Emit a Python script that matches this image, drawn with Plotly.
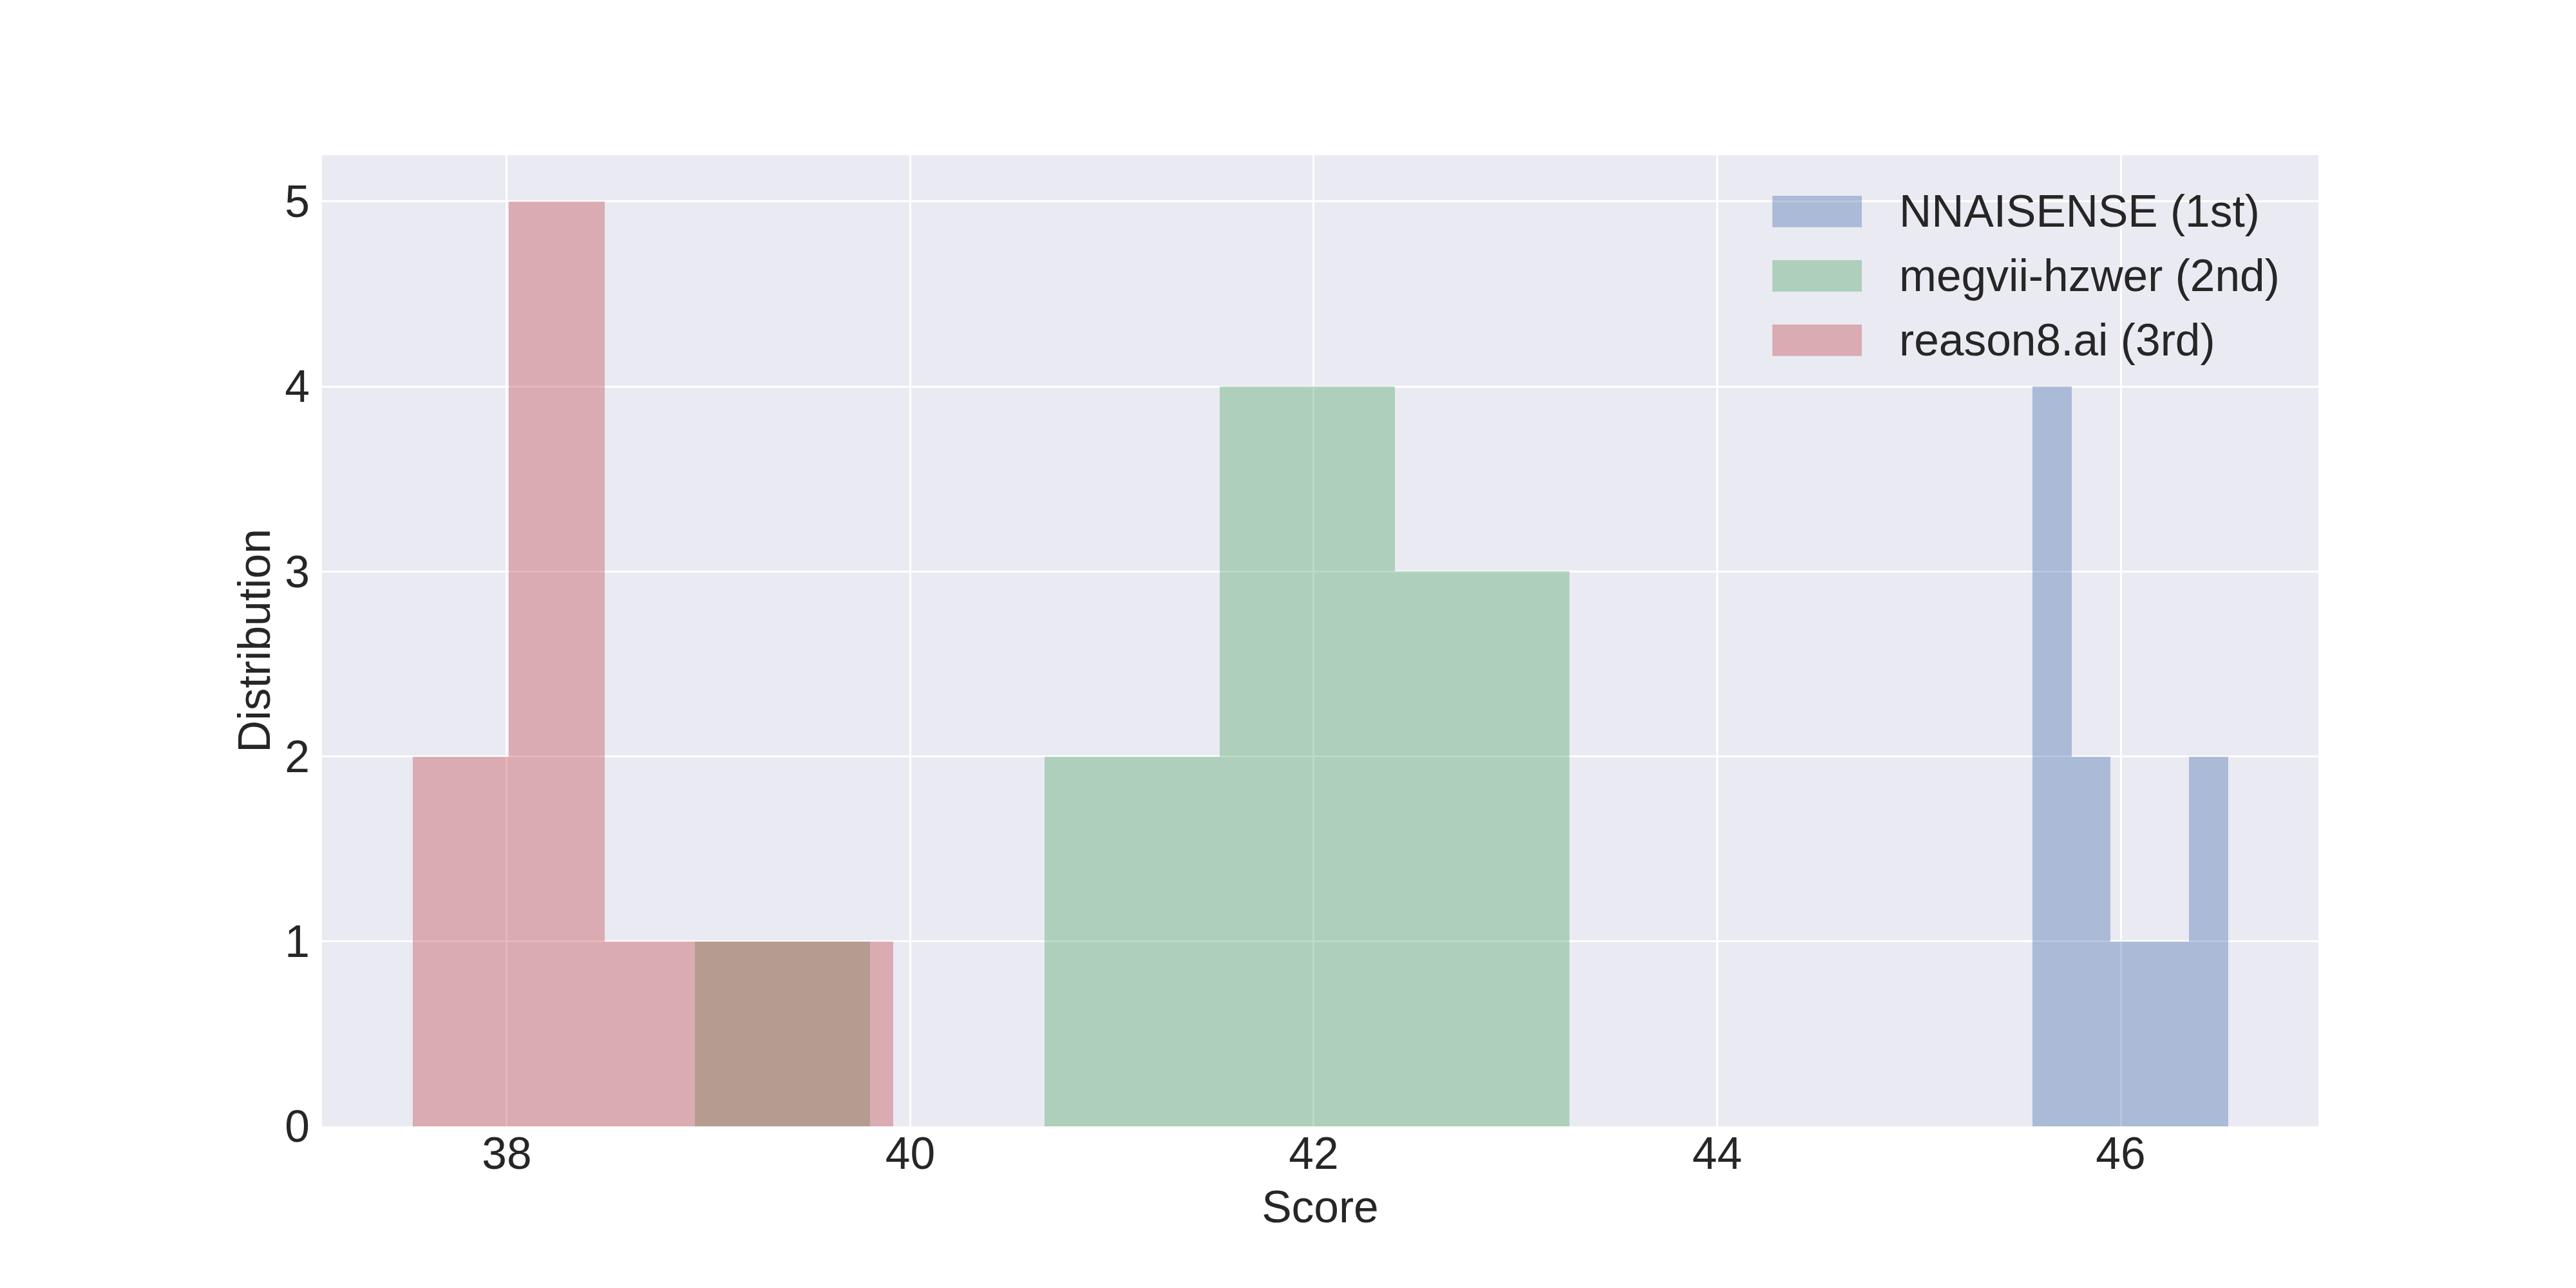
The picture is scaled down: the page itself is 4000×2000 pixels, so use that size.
import plotly.graph_objects as go

# ---- data ----
series_names = ["NNAISENSE (1st)", "megvii-hzwer (2nd)", "reason8.ai (3rd)"]
blue_edges = [45.562, 45.756, 45.950, 46.144, 46.338, 46.532]
blue_counts = [4, 2, 1, 1, 2]
green_edges = [38.933, 39.800, 40.667, 41.534, 42.401, 43.268]
green_counts = [1, 0, 2, 4, 3]
red_edges = [37.534, 38.010, 38.486, 38.962, 39.439, 39.915]
red_counts = [2, 5, 1, 1, 1]
x_ticks = [38, 40, 42, 44, 46]
y_ticks = [0, 1, 2, 3, 4, 5]

colors = ["rgba(76,114,176,0.4)", "rgba(85,168,104,0.4)", "rgba(196,78,82,0.4)"]
TXT = "#262626"
FONT = "Liberation Sans, Arial, sans-serif"
FS = 69.5

fig = go.Figure()
for name, edges, counts, col in zip(series_names,
                                    [blue_edges, green_edges, red_edges],
                                    [blue_counts, green_counts, red_counts],
                                    colors):
    centers = [(edges[i] + edges[i + 1]) / 2 for i in range(len(counts))]
    widths = [edges[i + 1] - edges[i] for i in range(len(counts))]
    fig.add_trace(go.Bar(x=centers, y=counts, width=widths, name=name,
                         marker=dict(color=col, line=dict(width=0)),
                         showlegend=False))

# manual legend (large patches like matplotlib)
leg_x0, leg_x1, leg_tx = 0.7265, 0.7713, 0.7892
row_y = [0.9420, 0.8757, 0.8094]
patch_h = 0.0323
for name, col, yc in zip(series_names, colors, row_y):
    fig.add_shape(type="rect", xref="paper", yref="paper",
                  x0=leg_x0, x1=leg_x1, y0=yc - patch_h / 2, y1=yc + patch_h / 2,
                  fillcolor=col, line=dict(width=0), layer="above")
    fig.add_annotation(xref="paper", yref="paper", x=leg_tx, y=yc,
                       text=name, showarrow=False, xanchor="left", yanchor="middle",
                       font=dict(family=FONT, size=FS, color=TXT))

fig.update_layout(
    width=4000, height=2000,
    margin=dict(l=492, r=408, t=233, b=259, autoexpand=False),
    paper_bgcolor="white", plot_bgcolor="#EAEAF2",
    barmode="overlay", bargap=0,
    font=dict(family=FONT, size=FS, color=TXT),
    xaxis=dict(range=[37.084, 46.980], tickvals=x_ticks, showgrid=True,
               gridcolor="white", gridwidth=2.8, zeroline=False, showline=False,
               ticks="", ticklabelstandoff=-5,
               title=dict(text="Score", standoff=20, font=dict(size=FS, color=TXT)),
               tickfont=dict(size=FS, color=TXT), automargin=False),
    yaxis=dict(range=[0, 5.25], tickvals=y_ticks, showgrid=True,
               gridcolor="white", gridwidth=2.8, zeroline=False, showline=False,
               ticks="", ticklabelstandoff=18,
               title=dict(text="Distribution", standoff=0, font=dict(size=FS, color=TXT)),
               tickfont=dict(size=FS, color=TXT), automargin=False),
)

fig.write_html("out.html")
